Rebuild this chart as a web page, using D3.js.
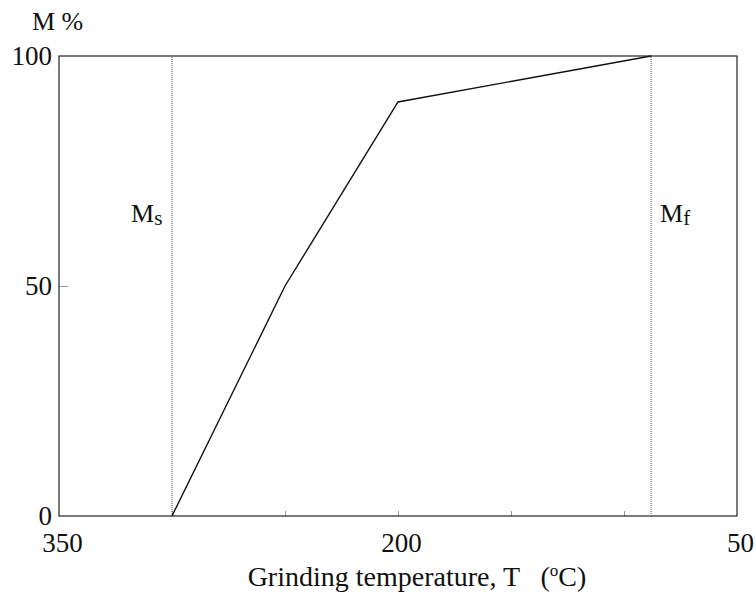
<!DOCTYPE html>
<html>
<head>
<meta charset="utf-8">
<script src="https://cdn.jsdelivr.net/npm/d3@7"></script>
<style>
  html, body { margin: 0; padding: 0; background: #fff; }
  svg { display: block; font-family: "Liberation Serif", "Times New Roman", serif; }
  text { white-space: pre; fill: #111; }
</style>
</head>
<body>
<svg id="chart" width="756" height="597"></svg>
<script>
// Martensite fraction vs grinding temperature
const temperature = [300, 250, 200, 88];   // T (°C)
const martensite  = [0, 50, 90, 100];      // M %
const msTemp = 300;                        // martensite start
const mfTemp = 88;                         // martensite finish
const xTickLabels = [350, 200, 50];
const xMinorTicks = [300, 250, 200, 150, 100];
const yTickLabels = [0, 50, 100];

const svg = d3.select("#chart");
const margin = { left: 59, right: 19, top: 56, bottom: 81 };
const W = 756, H = 597;

const x = d3.scaleLinear().domain([350, 50]).range([margin.left, W - margin.right]);
const y = d3.scaleLinear().domain([0, 100]).range([H - margin.bottom, margin.top]);

// minor ticks along the bottom, pointing inward
svg.append("g")
  .attr("transform", `translate(0,${y(0)})`)
  .call(d3.axisBottom(x).tickValues(xMinorTicks).tickSize(-5).tickFormat(""))
  .call(g => g.select(".domain").remove())
  .call(g => g.selectAll("line").attr("stroke", "#999").attr("stroke-width", 1));

// inward tick at 50 %
svg.append("g")
  .attr("transform", `translate(${x(350)},0)`)
  .call(d3.axisLeft(y).tickValues([50]).tickSize(-9).tickFormat(""))
  .call(g => g.select(".domain").remove())
  .call(g => g.selectAll("line").attr("stroke", "#999").attr("stroke-width", 1));

// x tick labels
svg.append("g")
  .attr("transform", `translate(3,${y(0)})`)
  .call(d3.axisBottom(x).tickValues(xTickLabels).tickSize(0).tickPadding(17))
  .call(g => g.select(".domain").remove())
  .call(g => g.selectAll("text").attr("font-size", 27).attr("font-family", "Liberation Serif").attr("fill", "#111"));

// y tick labels
svg.append("g")
  .attr("transform", `translate(${x(350)},0)`)
  .call(d3.axisLeft(y).tickValues(yTickLabels).tickSize(0).tickPadding(7))
  .call(g => g.select(".domain").remove())
  .call(g => g.selectAll("text").attr("font-size", 27).attr("font-family", "Liberation Serif").attr("fill", "#111"));

// frame
svg.append("rect")
  .attr("x", x(350)).attr("y", y(100))
  .attr("width", x(50) - x(350)).attr("height", y(0) - y(100))
  .attr("fill", "none").attr("stroke", "#222").attr("stroke-width", 1.2);

// Ms and Mf markers
[msTemp, mfTemp].forEach(t => {
  svg.append("line")
    .attr("x1", x(t)).attr("x2", x(t))
    .attr("y1", y(0)).attr("y2", y(100))
    .attr("stroke", "#555").attr("stroke-width", 1)
    .attr("stroke-dasharray", "1,1");
});

// transformation curve
const line = d3.line().x((d, i) => x(temperature[i])).y(d => y(d));
svg.append("path")
  .datum(martensite)
  .attr("d", line)
  .attr("fill", "none").attr("stroke", "#111").attr("stroke-width", 1.4);

// Ms / Mf labels
function subLabel(xPos, main, sub) {
  const t = svg.append("text").attr("x", xPos).attr("y", 222).attr("font-size", 26);
  t.append("tspan").text(main);
  t.append("tspan").attr("dy", 3).attr("font-size", 21).text(sub);
}
subLabel(x(msTemp) - 41, "M", "s");
subLabel(x(mfTemp) + 9, "M", "f");

// axis titles
svg.append("text").attr("x", 32).attr("y", 30).attr("font-size", 26).text("M %");

const xt = svg.append("text")
  .attr("x", 417).attr("y", 586).attr("text-anchor", "middle").attr("font-size", 28);
xt.append("tspan").text("Grinding temperature, T   (");
xt.append("tspan").attr("dy", -10).attr("font-size", 17).text("o");
xt.append("tspan").attr("dy", 10).text("C)");
</script>
</body>
</html>
